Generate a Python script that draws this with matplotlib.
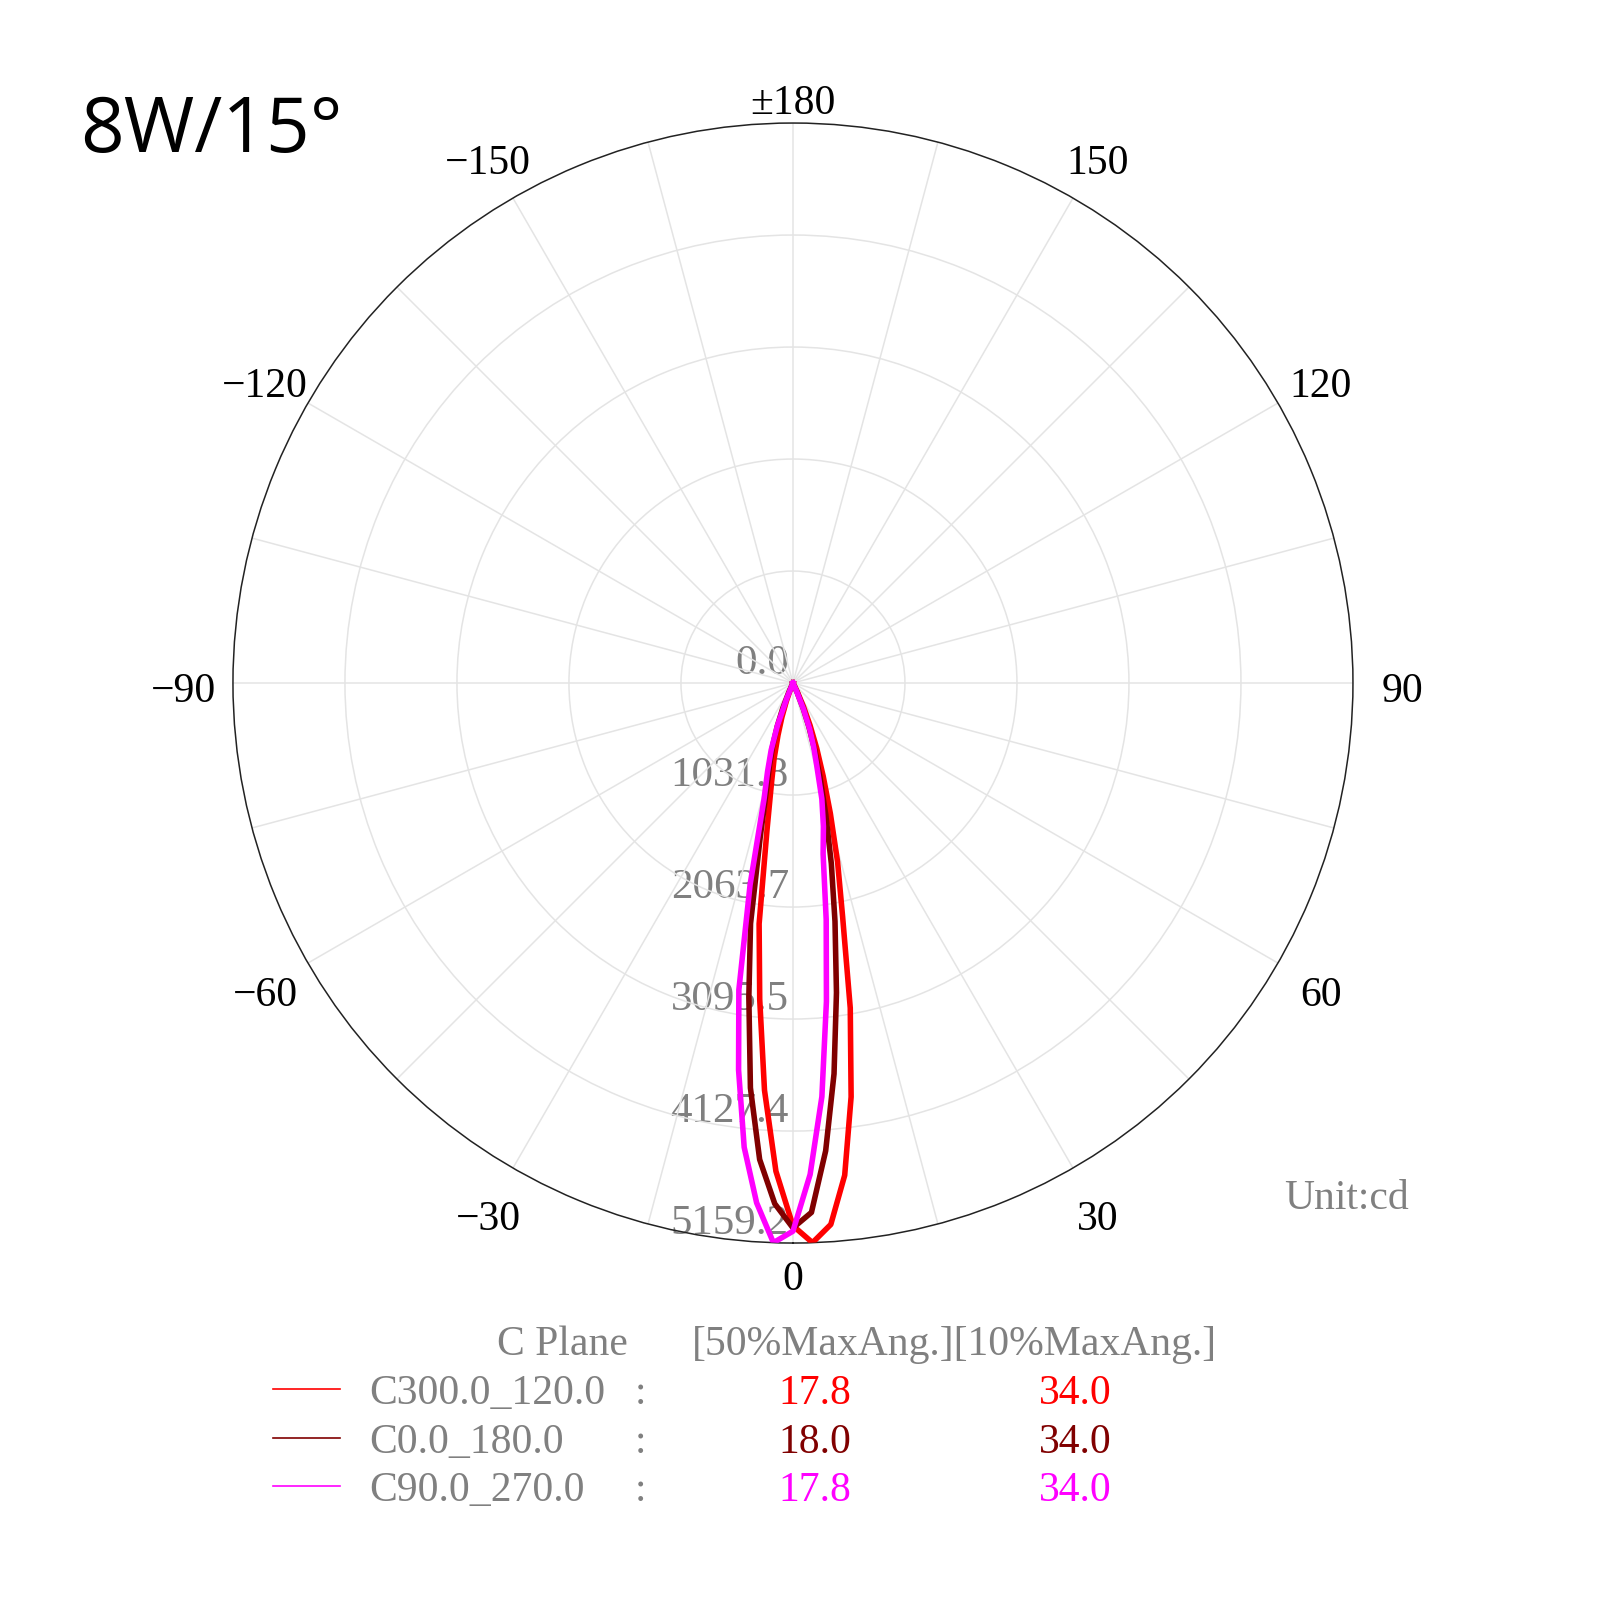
import numpy as np
import matplotlib.pyplot as plt
from matplotlib.lines import Line2D
from matplotlib.transforms import offset_copy

# gamma angles (deg) and luminous intensity (cd) per C plane
angles = [-90, -30, -28, -26, -24, -22, -20, -18, -16, -14, -12, -10, -8, -6, -4, -2,
          0, 2, 4, 6, 8, 10, 12, 14, 16, 18, 20, 22, 24, 26, 28, 30, 90]
c300_120 = [0, 0, 0, 0, 0, 60, 180, 330, 500, 720, 960, 1380, 2240, 2930, 3760, 4500,
            5000, 5159, 5000, 4560, 3850, 3040, 2200, 1700, 1250, 900, 640, 420, 240, 100, 30, 0, 0]
c0_180 = [0, 0, 0, 0, 100, 250, 420, 600, 780, 1000, 1450, 2250, 2920, 3750, 4400, 4800,
          5020, 4880, 4320, 3620, 2880, 2230, 1700, 1250, 900, 650, 430, 250, 100, 0, 0, 0, 0]
c90_270 = [0, 0, 0, 0, 0, 150, 420, 650, 850, 1100, 1900, 2870, 3600, 4300, 4800, 5159,
           5050, 4530, 3820, 2950, 2200, 1600, 1350, 1100, 800, 620, 450, 260, 80, 0, 0, 0, 0]

rings = [0, 1031.8, 2063.7, 3095.5, 4127.4, 5159.2]
ring_labels = ['0.0', '1031.8', '2063.7', '3095.5', '4127.4', '5159.2']

tick_angles = [0, 30, 60, 90, 120, 150, 180, -150, -120, -90, -60, -30]
tick_labels = ['0', '30', '60', '90', '120', '150', '±180', '−150', '−120', '−90', '−60', '−30']

plane_names = ['C300.0_120.0', 'C0.0_180.0', 'C90.0_270.0']
half_angles = ['17.8', '18.0', '17.8']
tenth_angles = ['34.0', '34.0', '34.0']
colors = ['#ff0000', '#800000', '#ff00ff']

plt.rcParams['font.family'] = ['Liberation Serif', 'DejaVu Serif']
gray = '#808080'
fs = 30

fig = plt.figure(figsize=(16, 16), dpi=100)
ax = fig.add_axes([0.1456, 0.2231, 0.7, 0.7], projection='polar')
ax.set_theta_zero_location('S')
ax.set_theta_direction(1)
ax.set_ylim(0, rings[-1])

ax.set_xticks(np.radians(np.arange(0, 360, 15)))
ax.set_xticklabels([''] * 24)
ax.set_yticks(rings[1:-1])
ax.set_yticklabels([''] * 4)
ax.grid(color='#e4e4e4', lw=1.1)
ax.spines['polar'].set_color('#222222')
ax.spines['polar'].set_linewidth(1.1)

theta = np.radians(angles)
for vals, c in zip([c300_120, c0_180, c90_270], colors):
    ax.plot(theta, vals, color=c, lw=4.0, zorder=4, solid_joinstyle='round')

# angle labels around the circle
lab_trans = offset_copy(ax.transData, fig=fig, x=0, y=-4, units='dots')
for a, lab in zip(tick_angles, tick_labels):
    r_off = 258 if a in (0, 180) else 455
    ax.text(np.radians(a), rings[-1] + r_off, lab, transform=lab_trans, ha='center',
            va='center_baseline', fontsize=fs, clip_on=False)

# intensity labels along the 0 axis
trans = offset_copy(ax.transData, fig=fig, x=-4, y=9, units='dots')
for r, lab in zip(rings, ring_labels):
    ax.text(0, r, lab, transform=trans, ha='right', va='baseline', color=gray,
            fontsize=31, zorder=1)

fig.text(80 / 1600, 1 - 152 / 1600, '8W/15°', fontsize=55, family='Open Sans', va='baseline')
fig.text(1284 / 1600, 1 - 1194 / 1600, 'Unit:cd', fontsize=fs, color=gray, va='center_baseline')

# legend table
fig.text(497 / 1600, 1 - 1340 / 1600, 'C Plane', fontsize=fs, color=gray, va='center_baseline')
fig.text(692 / 1600, 1 - 1340 / 1600, '[50%MaxAng.][10%MaxAng.]', fontsize=fs, color=gray,
         va='center_baseline')
row_y = [1389, 1438, 1486]
for y, name, h, t, c in zip(row_y, plane_names, half_angles, tenth_angles, colors):
    yf = 1 - y / 1600
    fig.add_artist(Line2D([273 / 1600, 340 / 1600], [yf, yf], color=c, lw=1.2))
    fig.text(369 / 1600, yf, name, fontsize=fs, color=gray, va='center_baseline')
    fig.text(640 / 1600, yf, ':', fontsize=fs, color=gray, ha='center', va='center_baseline')
    fig.text(815 / 1600, yf, h, fontsize=fs, color=c, ha='center', va='center_baseline')
    fig.text(1075 / 1600, yf, t, fontsize=fs, color=c, ha='center', va='center_baseline')

fig.savefig('out.png', dpi=100)
